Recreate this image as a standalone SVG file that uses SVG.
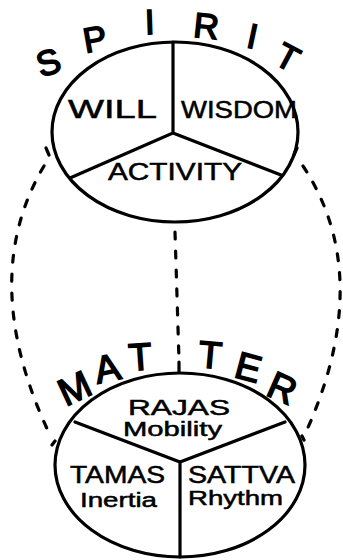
<svg xmlns="http://www.w3.org/2000/svg" width="343" height="560" viewBox="0 0 343 560">
<style>
.ln{fill:none;stroke:#000;stroke-width:3.2;stroke-linecap:round}
.dash{fill:none;stroke:#000;stroke-width:3.2;stroke-dasharray:7 12;stroke-linecap:round}
.big{font-family:"Liberation Sans",Arial,sans-serif;font-size:35px;fill:#000;stroke:#000;stroke-width:1.6;text-anchor:middle}
.lab{font-family:"Liberation Sans",Arial,sans-serif;fill:#000;stroke:#000;stroke-width:0.5}
</style>
<rect width="343" height="560" fill="#fff"/>
<g id="connectors">
<path class="dash" d="M 44,166 C 0,240 0,330 50,435"/>
<path class="dash" d="M 303,166 C 352,240 352,330 306,432"/>
<path class="dash" d="M 175,232 L 179,360"/>
<path class="ln" stroke-width="2.5" d="M 46,148 L 49,155 M 297,148 L 294,155 M 52,445 L 55,441 M 304,440 L 302,436 M 179,362 L 179,372"/>
</g>
<g id="spirit">
<ellipse class="ln" cx="175" cy="132" rx="123" ry="90"/>
<path class="ln" d="M 173,42 L 173,133 L 70,178 M 173,133 L 281,175"/>
<g class="big">
<text transform="translate(52,74) rotate(-18)">S</text>
<text transform="translate(97,51) rotate(-10)">P</text>
<text transform="translate(150,34) rotate(-2)">I</text>
<text transform="translate(205,38) rotate(6)">R</text>
<text transform="translate(250,48) rotate(12)">I</text>
<text transform="translate(282,68) rotate(28)">T</text>
</g>
<text class="lab" x="68" y="118" font-size="26" textLength="89" lengthAdjust="spacingAndGlyphs">WILL</text>
<text class="lab" x="181" y="118" font-size="24" textLength="116" lengthAdjust="spacingAndGlyphs">WISDOM</text>
<text class="lab" x="108" y="180" font-size="23" textLength="134" lengthAdjust="spacingAndGlyphs">ACTIVITY</text>
</g>
<g id="matter">
<ellipse class="ln" cx="180" cy="465" rx="125" ry="92"/>
<path class="ln" d="M 75,422 L 180,462 L 285,422 M 180,462 L 180,557"/>
<g class="big" style="font-size:38px">
<text transform="translate(80,400) rotate(-25)">M</text>
<text transform="translate(110,381) rotate(-12)">A</text>
<text transform="translate(141,370) rotate(-4)">T</text>
<text transform="translate(209,368) rotate(5)">T</text>
<text transform="translate(245,380) rotate(15)">E</text>
<text transform="translate(277,400) rotate(24)">R</text>
</g>
<text class="lab" x="128" y="415" font-size="22" textLength="102" lengthAdjust="spacingAndGlyphs">RAJAS</text>
<text class="lab" x="123" y="436" font-size="20" textLength="99" lengthAdjust="spacingAndGlyphs">Mobility</text>
<text class="lab" x="70" y="483" font-size="23" textLength="95" lengthAdjust="spacingAndGlyphs">TAMAS</text>
<text class="lab" x="80" y="507" font-size="20" textLength="77" lengthAdjust="spacingAndGlyphs">Inertia</text>
<text class="lab" x="188" y="483" font-size="23" textLength="107" lengthAdjust="spacingAndGlyphs">SATTVA</text>
<text class="lab" x="188" y="505" font-size="20" textLength="95" lengthAdjust="spacingAndGlyphs">Rhythm</text>
</g>
</svg>
